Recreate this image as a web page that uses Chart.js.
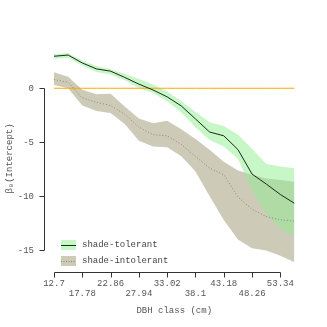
<!DOCTYPE html>
<html>
<head>
<meta charset="utf-8">
<script src="https://cdn.jsdelivr.net/npm/chart.js@4/dist/chart.umd.min.js"></script>
<style>
  html, body { margin: 0; padding: 0; background: #fff; }
  #wrap { width: 327px; height: 327px; position: relative; }
</style>
</head>
<body>
<div id="wrap"><canvas id="chart"></canvas></div>
<script>
// DBH class midpoints (cm) and the axis tick labels
const dbhClass = [12.7, 15.24, 17.78, 20.32, 22.86, 25.4, 27.94, 30.48, 33.02, 35.56, 38.1, 40.64, 43.18, 45.72, 48.26, 50.8, 53.34, 55.88];
const xTicks = [12.7, 17.78, 22.86, 27.94, 33.02, 38.1, 43.18, 48.26, 53.34];
const xTickLabels = ['12.7', '17.78', '22.86', '27.94', '33.02', '38.1', '43.18', '48.26', '53.34'];
const yTicks = [0, -5, -10, -15];

// shade-tolerant: posterior mean + band
const tolerantMean  = [2.96, 3.07, 2.34, 1.79, 1.58, 1.0, 0.38, -0.16, -0.8, -1.64, -2.84, -4.05, -4.4, -5.67, -7.94, -8.86, -9.83, -10.65];
const tolerantUpper = [3.15, 3.25, 2.55, 2.05, 1.75, 1.35, 0.85, 0.35, -0.3, -1.2, -2.2, -3.15, -3.5, -4.3, -5.6, -7.0, -7.25, -7.4];
const tolerantLower = [2.72, 2.82, 2.1, 1.5, 1.28, 0.75, 0.0, -0.45, -1.2, -2.25, -3.6, -4.8, -5.4, -6.5, -9.5, -11.6, -13.0, -13.7];

// shade-intolerant
const intolerantMean  = [0.8, 0.55, -0.9, -1.3, -1.6, -2.4, -3.6, -4.3, -4.4, -5.2, -6.3, -7.4, -8.0, -10.06, -11.2, -11.87, -12.17, -12.29];
const intolerantUpper = [1.48, 1.07, -0.15, -0.55, -0.5, -1.7, -2.8, -3.25, -3.0, -3.8, -4.7, -5.7, -6.8, -7.6, -8.0, -8.35, -8.5, -8.65];
const intolerantLower = [0.3, 0.0, -1.6, -2.1, -2.3, -3.3, -4.85, -5.4, -5.46, -6.3, -7.7, -10.0, -12.2, -14.0, -14.8, -15.0, -15.5, -16.1];

// zero reference
const zeroLine = [0, 0, 0, 0, 0, 0, 0, 0, 0, 0, 0, 0, 0, 0, 0, 0, 0, 0];

const C = {
  greenFill: 'rgba(144, 238, 144, 0.5)',
  greyFill:  'rgba(160, 156, 118, 0.52)',
  greenLine: '#1c2a1c',
  greyLine:  '#8a8a78',
  orange:    '#ffa500',
  axis:      '#333',
  text:      '#555',
};
const FONT = '"Liberation Mono", "DejaVu Sans Mono", monospace';

const pts = (ys) => ys.map((y, i) => ({ x: dbhClass[i], y }));

function line(label, data, extra) {
  return Object.assign({
    label, data: pts(data),
    pointRadius: 0, borderWidth: 0, tension: 0, fill: false,
  }, extra);
}

// spines trimmed to the tick range, ticks drawn by hand
const spines = {
  id: 'spines',
  afterDraw(chart) {
    const { ctx, chartArea, scales: { x, y } } = chart;
    ctx.save();
    ctx.strokeStyle = C.axis;
    ctx.lineWidth = 1;
    const ax = chartArea.left - 10 + 0.5;
    ctx.beginPath();
    ctx.moveTo(ax, Math.round(y.getPixelForValue(yTicks[0])) + 0.5);
    ctx.lineTo(ax, Math.round(y.getPixelForValue(yTicks[yTicks.length - 1])) + 0.5);
    yTicks.forEach(v => {
      const py = Math.round(y.getPixelForValue(v)) + 0.5;
      ctx.moveTo(ax - 5, py); ctx.lineTo(ax, py);
    });
    const by = Math.round(chartArea.bottom) + 0.5;
    ctx.moveTo(Math.round(x.getPixelForValue(xTicks[0])) + 0.5, by);
    ctx.lineTo(Math.round(x.getPixelForValue(xTicks[xTicks.length - 1])) + 0.5, by);
    xTicks.forEach(v => {
      const px = Math.round(x.getPixelForValue(v)) + 0.5;
      ctx.moveTo(px, by); ctx.lineTo(px, by + 5);
    });
    ctx.stroke();

    // legend
    const items = [
      { label: 'shade-tolerant', fill: C.greenFill, stroke: C.greenLine, dash: [] },
      { label: 'shade-intolerant', fill: C.greyFill, stroke: C.greyLine, dash: [1, 1.5] },
    ];
    const lx = chartArea.left + 7, ly0 = chartArea.bottom - 32;
    ctx.font = '9px ' + FONT;
    ctx.textBaseline = 'middle';
    items.forEach((it, i) => {
      const ly = ly0 + i * 16;
      ctx.fillStyle = it.fill;
      ctx.fillRect(lx, ly, 15, 10);
      ctx.beginPath();
      ctx.setLineDash(it.dash);
      ctx.strokeStyle = it.stroke;
      ctx.moveTo(lx, ly + 5.5); ctx.lineTo(lx + 15, ly + 5.5);
      ctx.stroke();
      ctx.setLineDash([]);
      ctx.fillStyle = '#444';
      ctx.fillText(it.label, lx + 21, ly + 5);
    });
    ctx.restore();
  },
};

new Chart(document.getElementById('chart'), {
  type: 'line',
  data: {
    datasets: [
      line('shade-tolerant', tolerantMean, { borderWidth: 1, borderColor: C.greenLine, order: 1 }),
      line('shade-intolerant', intolerantMean, { borderWidth: 1, borderColor: C.greyLine, borderDash: [1, 2], order: 2 }),
      line('zero', zeroLine, { borderWidth: 1, borderColor: C.orange, order: 3 }),
      line('tol upper', tolerantUpper, { fill: '+1', backgroundColor: C.greenFill, order: 5 }),
      line('tol lower', tolerantLower, { order: 6 }),
      line('intol upper', intolerantUpper, { fill: '+1', backgroundColor: C.greyFill, order: 7 }),
      line('intol lower', intolerantLower, { order: 8 }),
    ],
  },
  options: {
    responsive: true,
    maintainAspectRatio: false,
    animation: false,
    layout: { padding: { top: 45, right: 32.5, left: 0, bottom: 0 } },
    scales: {
      x: {
        type: 'linear',
        min: 12.7, max: 55.88,
        border: { display: false },
        grid: { display: false, drawTicks: false },
        afterBuildTicks: (s) => { s.ticks = xTicks.map(v => ({ value: v })); },
        afterFit: (s) => { s.height = 55; },
        ticks: {
          autoSkip: false, maxRotation: 0, padding: 6,
          color: C.text,
          font: { family: FONT, size: 9, lineHeight: 1.15 },
          callback: (v, i) => (i % 2 === 0 ? xTickLabels[i] : ['', xTickLabels[i]]),
        },
        title: {
          display: true, text: 'DBH class (cm)', color: C.text,
          font: { family: FONT, size: 9 }, padding: { top: 0, bottom: 11 },
        },
      },
      y: {
        min: -17, max: 4,
        border: { display: false },
        grid: { display: false, drawTicks: false },
        afterBuildTicks: (s) => { s.ticks = yTicks.map(v => ({ value: v })); },
        afterFit: (s) => { s.width = 54; },
        ticks: {
          padding: 20, color: C.text,
          font: { family: FONT, size: 9 },
          callback: (v) => String(v),
        },
        title: {
          display: true, text: 'β₀(Intercept)', color: C.text,
          font: { family: FONT, size: 9 }, padding: { top: 4, bottom: 0 },
        },
      },
    },
    plugins: {
      legend: { display: false },
      tooltip: { enabled: false },
    },
  },
  plugins: [spines],
});
</script>
</body>
</html>
